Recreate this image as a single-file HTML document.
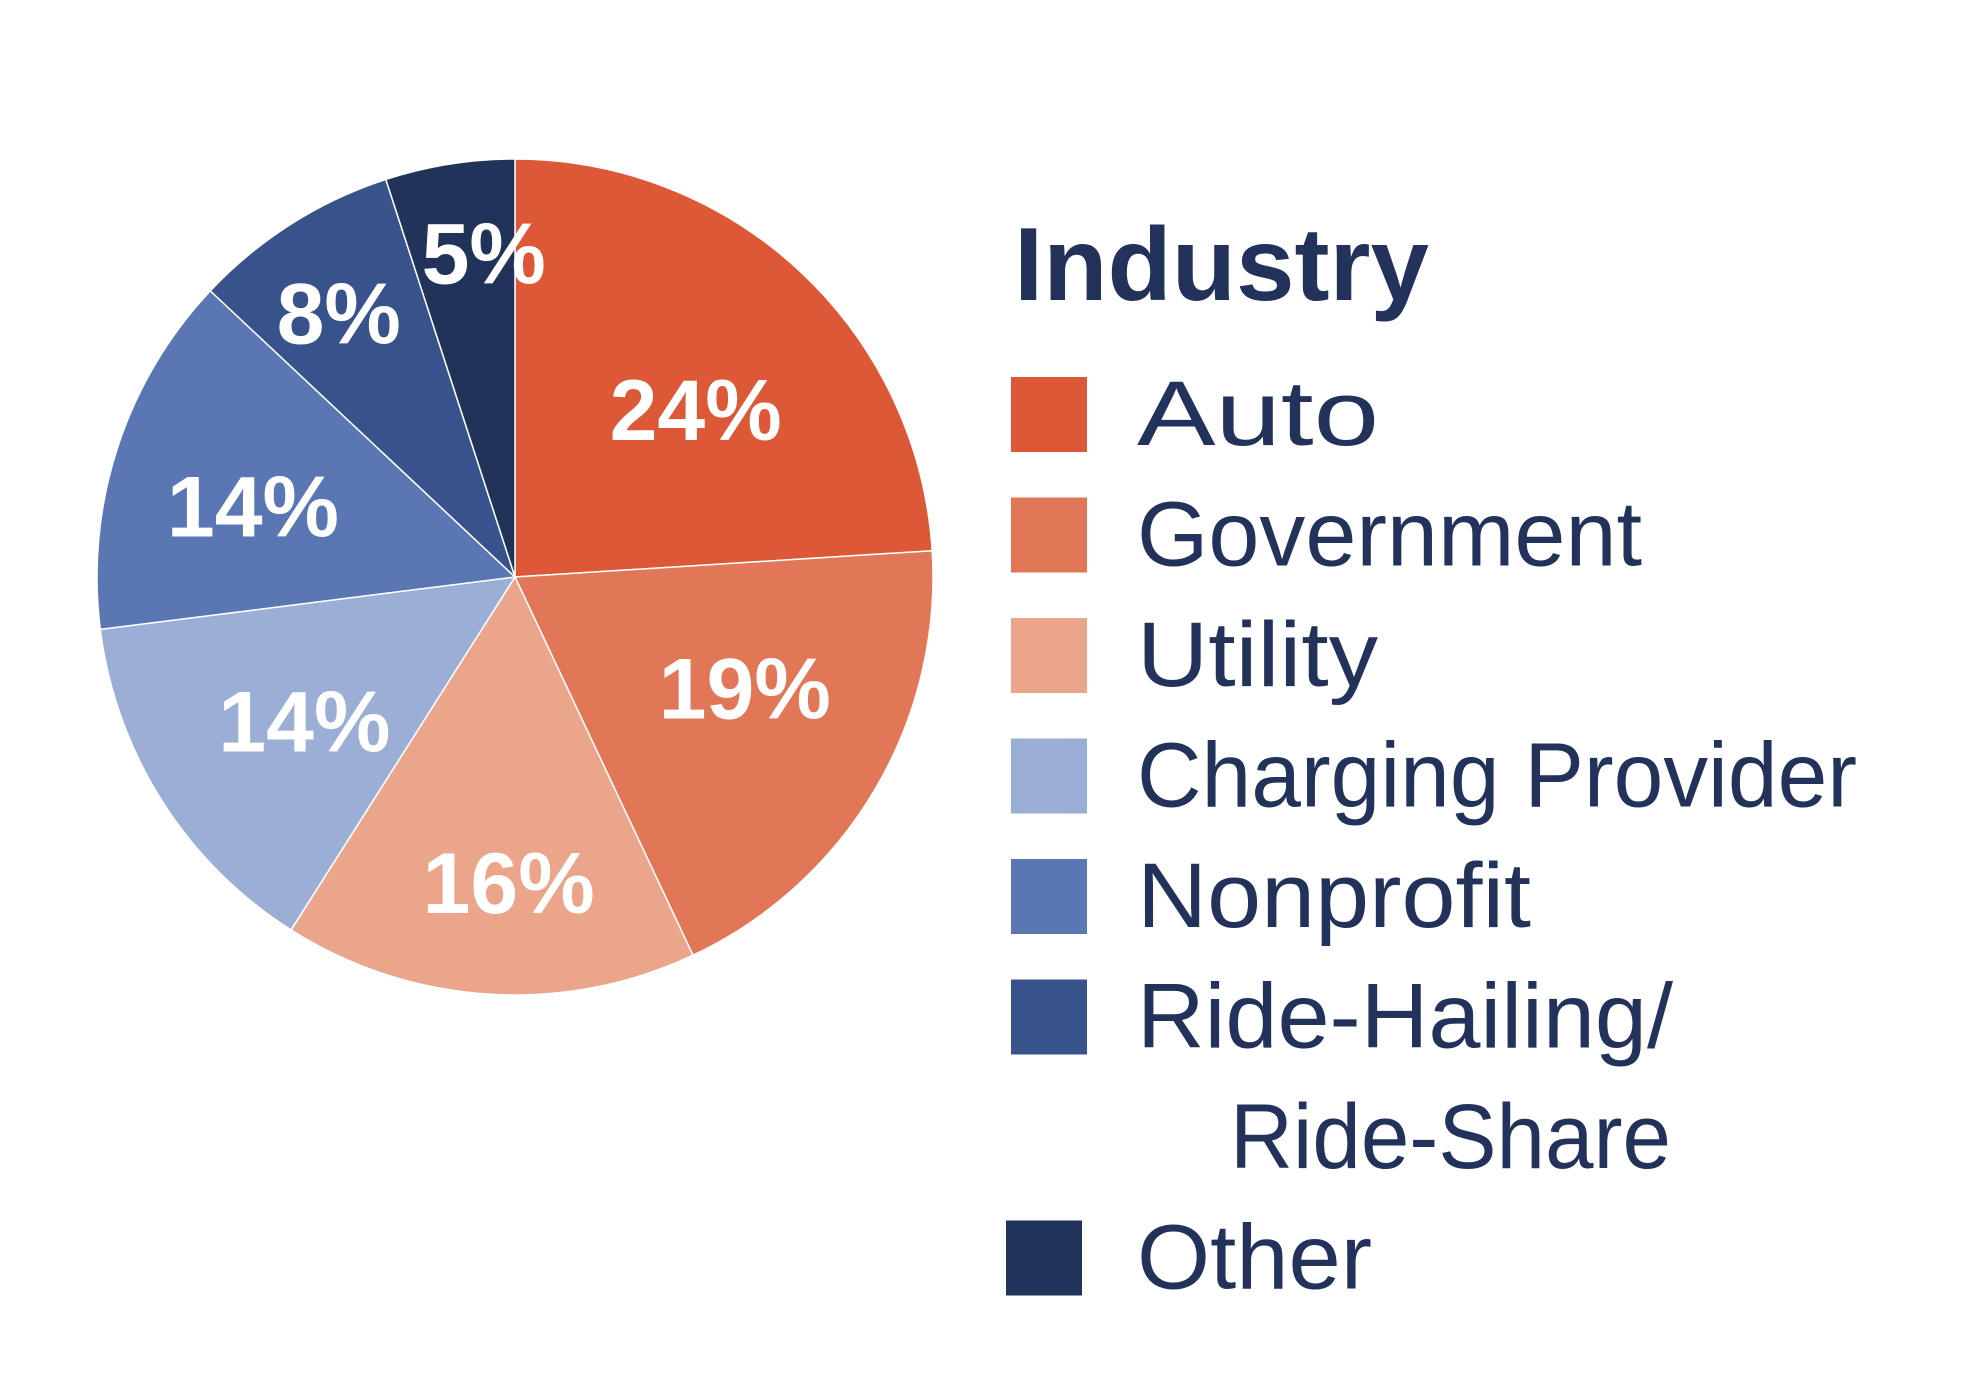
<!DOCTYPE html>
<html><head><meta charset="utf-8"><style>
html,body{margin:0;padding:0;background:#fff;}
svg{display:block;}
</style></head><body>
<svg id="chart" width="1968" height="1376" viewBox="0 0 1968 1376" xmlns="http://www.w3.org/2000/svg">
<g id="pie"></g>
<g id="labels" font-family="'Liberation Sans', sans-serif" font-weight="bold" font-size="86" fill="#fff" text-anchor="middle"></g>
<g id="legend" font-family="'Liberation Sans', sans-serif" fill="#22325a">
<text x="1014" y="300" font-size="104" font-weight="bold" textLength="415" lengthAdjust="spacingAndGlyphs">Industry</text>
</g>
</svg>
<script>
const categories = ["Auto","Government","Utility","Charging Provider","Nonprofit","Ride-Hailing/ Ride-Share","Other"];
const values = [24,19,16,14,14,8,5];
const valueLabels = ["24%","19%","16%","14%","14%","8%","5%"];
const colors = ["#dd5837","#e27757","#eaa58b","#9aaed6","#5a77b4","#38528b","#22335a"];

const NS="http://www.w3.org/2000/svg";
const cx=515, cy=577, r=418;
const total=values.reduce((a,b)=>a+b,0);
function angleOf(v){return v/total*2*Math.PI;}
function pt(a,rr){return [cx+rr*Math.sin(a), cy-rr*Math.cos(a)];}
const pie=document.getElementById('pie');
const labels=document.getElementById('labels');
// label layout: radial factor and angular nudge (degrees) per slice
const labelR=[0.59,0.61,0.73,0.61,0.65,0.76,0.78];
const labelNudge=[3.9,-4.9,-2.4,-1.9,-2.7,-1.3,3.5];
let start=0;
values.forEach((v,i)=>{
  const a=angleOf(v), end=start+a;
  const p0=pt(start,r), p1=pt(end,r);
  const path=document.createElementNS(NS,'path');
  path.setAttribute('d',`M${cx},${cy} L${p0[0]},${p0[1]} A${r},${r} 0 ${a>Math.PI?1:0} 1 ${p1[0]},${p1[1]} Z`);
  path.setAttribute('fill',colors[i]);
  path.setAttribute('stroke','#fff');
  path.setAttribute('stroke-width','1.5');
  
  
  pie.appendChild(path);
  const mid=start+a/2+labelNudge[i]*Math.PI/180;
  const lp=pt(mid,r*labelR[i]);
  const t=document.createElementNS(NS,'text');
  t.setAttribute('x',lp[0]);
  t.setAttribute('y',lp[1]+31);
  t.textContent=valueLabels[i];
  
  
  labels.appendChild(t);
  start=end;
});
// legend
const legend=document.getElementById('legend');
const legendWidths=[242,505,241,720,394,536,235];
const pitch=120.5;
let row=0;
categories.forEach((c,i)=>{
  const isOther=i===categories.length-1;
  const y=377+row*pitch;
  const rect=document.createElementNS(NS,'rect');
  rect.setAttribute('x',isOther?1006:1011);
  rect.setAttribute('y',y);
  rect.setAttribute('width',76);
  rect.setAttribute('height',75);
  rect.setAttribute('fill',colors[i]);
  
  
  legend.appendChild(rect);
  const parts=c.split(' ');
  const lines = c.startsWith('Ride') ? [parts[0],parts[1]] : [c];
  lines.forEach((ln,j)=>{
    const t=document.createElementNS(NS,'text');
    t.setAttribute('x',j===0?1137:1230);
    t.setAttribute('y',y+68+j*pitch);
    t.setAttribute('font-size','92');
    t.setAttribute('textLength', j===0?legendWidths[i]:441);
    t.setAttribute('lengthAdjust','spacingAndGlyphs');
    t.textContent=ln;
    
    
    legend.appendChild(t);
  });
  row+=lines.length;
});
</script>
</body></html>
